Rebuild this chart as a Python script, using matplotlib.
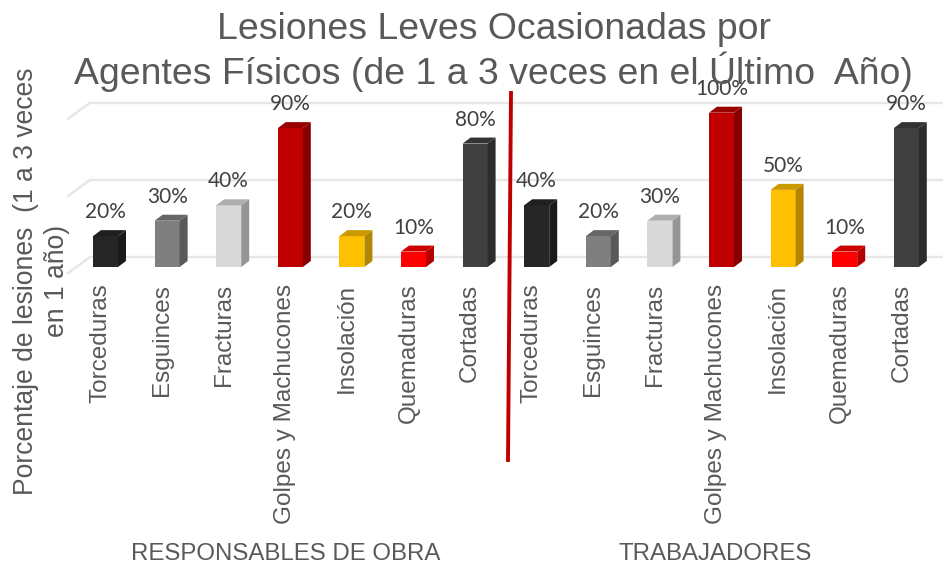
import matplotlib
matplotlib.use("Agg")
import matplotlib.pyplot as plt
from matplotlib.lines import Line2D
from matplotlib.patches import Polygon
from matplotlib.transforms import ScaledTranslation

categories = ["Torceduras", "Esguinces", "Fracturas", "Golpes y Machucones",
              "Insolación", "Quemaduras", "Cortadas"]
responsables = [20, 30, 40, 90, 20, 10, 80]
trabajadores = [40, 20, 30, 100, 50, 10, 90]
groups = ["RESPONSABLES DE OBRA", "TRABAJADORES"]
front_colors = ["#262626", "#7F7F7F", "#D9D9D9", "#C00000", "#FFC000", "#FF0000", "#404040"]
side_colors = ["#1A1A1A", "#595959", "#959595", "#860000", "#B38600", "#B30000", "#2C2C2C"]
top_colors = ["#1F1F1F", "#666666", "#AEAEAE", "#990000", "#CC9A00", "#CC0000", "#333333"]
yticks = [0, 50, 100]

W, H, DPI = 943, 565, 100
plt.rcParams["font.family"] = "Liberation Sans"
fig = plt.figure(figsize=(W / DPI, H / DPI), dpi=DPI)

left, right, bottom, top = 74.7, 937.1, 267.0, 112.7
ax = fig.add_axes([left / W, 1 - bottom / H, (right - left) / W, (bottom - top) / H])
ax.set_facecolor("none")
ax.set_xlim(-0.5, 13.5)
ax.set_ylim(0, 100)
for s in ax.spines.values():
    s.set_visible(False)
ax.set_yticks([])

x_px = (right - left) / 14          # pixels per category
y_px = (bottom - top) / 100         # pixels per percentage point


def px(dx, dy):
    return ScaledTranslation(dx / DPI, dy / DPI, fig.dpi_scale_trans)


values = responsables + trabajadores
positions = list(range(len(values)))
bar_w = 25 / x_px
depth_x, depth_y = 8 / x_px, 6 / y_px
grid_color = "#E6E6E6"

# back-wall gridlines and the floor diagonals that lead into them
wall_x = -0.5 + 15.4 / x_px
wall = ax.transData + px(0, 10)
for v in yticks:
    ax.plot([wall_x, 13.6], [v, v], color=grid_color, lw=1.7, transform=wall,
            clip_on=False, zorder=1, solid_capstyle="butt")
    ax.plot([wall_x, wall_x - 22 / x_px], [v, v - 16 / y_px], color=grid_color, lw=1.7,
            transform=wall, clip_on=False, zorder=1)

# bars: front face plus side and top faces, with their labels
for x, v, i in zip(positions, values, list(range(7)) * 2):
    x0, x1 = x - bar_w / 2, x + bar_w / 2
    ax.bar(x, v, width=bar_w, color=front_colors[i], zorder=3, clip_on=False)
    ax.add_patch(Polygon([(x1, 0), (x1, v), (x1 + depth_x, v + depth_y), (x1 + depth_x, depth_y)],
                         closed=True, facecolor=side_colors[i], edgecolor="none",
                         zorder=3, clip_on=False))
    ax.add_patch(Polygon([(x0, v), (x1, v), (x1 + depth_x, v + depth_y), (x0 + depth_x, v + depth_y)],
                         closed=True, facecolor=top_colors[i], edgecolor="none",
                         zorder=3, clip_on=False))
    ax.text(x, v, f"{v}%", transform=ax.transData + px(0, 24), ha="center", va="center",
            fontsize=15, color="#404040", family="Lato", zorder=5, clip_on=False)

# category labels
ax.set_xticks(positions)
ax.set_xticklabels(categories * 2, rotation=90, ha="center", va="top", fontsize=17.5, color="#595959")
ax.tick_params(axis="x", length=0, pad=12)
for lab in ax.get_xticklabels():
    lab.set_transform(lab.get_transform() + px(-5, 0))

# group labels
fig.text(285.5 / W, 1 - 560 / H, groups[0], ha="center", va="baseline", fontsize=17.3, color="#595959")
fig.text(715 / W, 1 - 560 / H, groups[1], ha="center", va="baseline", fontsize=17.3, color="#595959")

# title and axis label
fig.text(493.5 / W, 1 - 52 / H, "Lesiones Leves Ocasionadas por\nAgentes Físicos (de 1 a 3 veces en el Último  Año)",
         ha="center", va="center", fontsize=26.9, color="#595959", linespacing=1.12, zorder=6)
fig.text(41.5 / W, 1 - 281 / H, "Porcentaje de lesiones  (1 a 3 veces\nen 1 año)", rotation=90,
         ha="center", va="center", fontsize=19.1, color="#595959", linespacing=1.22, multialignment="center")

# divider
fig.add_artist(Line2D([511 / W, 508 / W], [1 - 93 / H, 1 - 460 / H], color="#C00000", lw=2.8, zorder=4))

fig.savefig("out.png", dpi=DPI)
